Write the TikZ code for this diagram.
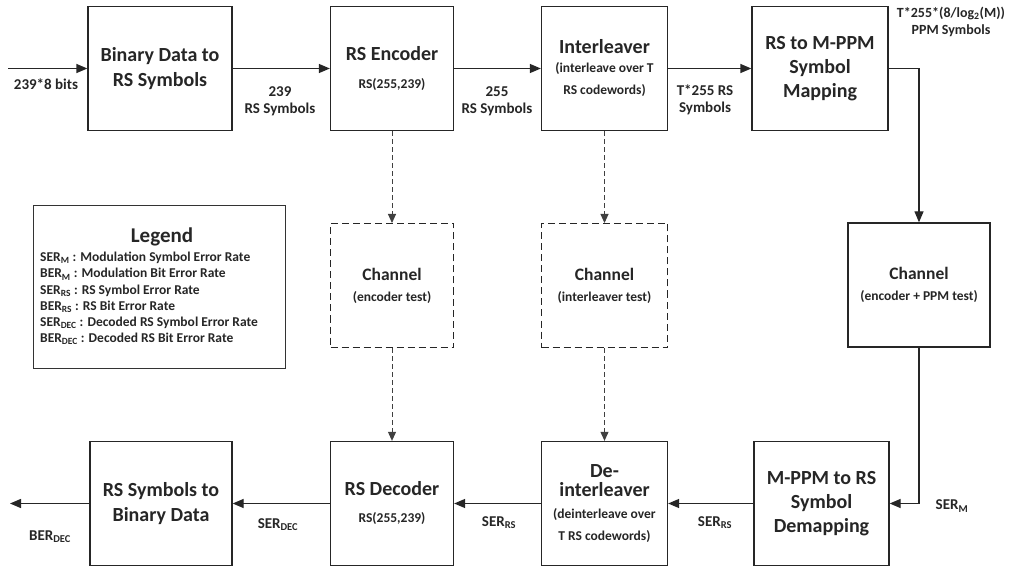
\documentclass[tikz,border=0pt]{standalone}
\usepackage{fontspec}
\setmainfont{Carlito}
\usetikzlibrary{arrows.meta}
\newcommand\subtxt[1]{{\fontsize{13.5}{17}\selectfont #1}}
\begin{document}
\begin{tikzpicture}[x=1pt,y=-1pt,
  blk/.style={draw=black!85,line width=1.3pt,fill=white,align=center,inner sep=2pt,
    minimum height=124pt,text=black!85,font=\fontsize{20}{25}\selectfont\bfseries},
  chan/.style={blk,font=\fontsize{17.5}{23}\selectfont\bfseries},
  chtest/.style={chan,line width=1pt,dash pattern=on 7pt off 4pt},
  lbl/.style={align=center,text=black!85,font=\fontsize{15}{17}\selectfont\bfseries},
  flow/.style={draw=black!85,line width=1.3pt,-{Triangle[length=11pt,width=9pt]}},
  tap/.style={draw=black!75,line width=0.9pt,dash pattern=on 5pt off 3pt,-{Triangle[length=9pt,width=8pt]}}]
  \useasboundingbox (0,0) rectangle (1017,569);

  % transmit chain
  \coordinate (in) at (8,68.5);
  \node[blk,minimum width=144pt] (bin) at (160,68.5) {Binary Data to\\RS Symbols};
  \node[blk,minimum width=123pt] (enc) at (392,68.5) {RS Encoder\\[3pt]\subtxt{RS(255,239)}};
  \node[blk,minimum width=126pt] (intl) at (604.5,68.5) {Interleaver\\[-6pt]\subtxt{(interleave over T}\\[-3pt]\subtxt{RS codewords)}};
  \node[blk,minimum width=136pt] (map) at (820,68.5) {RS to M-PPM\\[-1pt]Symbol\\[-1pt]Mapping};

  % channels
  \node[chtest,minimum width=123pt] (ch1) at (392,285.5) {Channel\\[-2pt]\subtxt{(encoder test)}};
  \node[chtest,minimum width=126pt] (ch2) at (604.5,285.5) {Channel\\[-2pt]\subtxt{(interleaver test)}};
  \node[chan,minimum width=142pt] (ch3) at (919,285) {Channel\\[-2pt]\subtxt{(encoder + PPM test)}};

  % receive chain
  \coordinate (out) at (10,503.5);
  \node[blk,minimum width=142pt] (unbin) at (161,503.5) {RS Symbols to\\Binary Data};
  \node[blk,minimum width=123pt] (dec) at (392,503.5) {RS Decoder\\[2pt]\subtxt{RS(255,239)}};
  \node[blk,minimum width=126pt] (deint) at (604.5,503.5) {De-\\[-6pt]interleaver\\[-3pt]\subtxt{(deinterleave over}\\[-3pt]\subtxt{T RS codewords)}};
  \node[blk,minimum width=135pt] (demap) at (821.5,503.5) {M-PPM to RS\\[-1pt]Symbol\\[-1pt]Demapping};

  % connectors
  \draw[flow] (in) -- (bin.west);
  \draw[flow] (bin) -- (enc);
  \draw[flow] (enc) -- (intl);
  \draw[flow] (intl) -- (map);
  \draw[flow] (map.east) -| (ch3.north);
  \draw[flow] (ch3.south) |- (demap.east);
  \draw[flow] (demap) -- (deint);
  \draw[flow] (deint) -- (dec);
  \draw[flow] (dec) -- (unbin);
  \draw[flow] (unbin.west) -- (out);
  \draw[tap] (enc) -- (ch1);
  \draw[tap] (ch1) -- (dec);
  \draw[tap] (intl) -- (ch2);
  \draw[tap] (ch2) -- (deint);

  % connector labels
  \node[lbl] (l0) at (46,84) {239*8 bits};
  \node[lbl] (l1) at (280,101) {239\\RS Symbols};
  \node[lbl] (l2) at (497,101) {255\\RS Symbols};
  \node[lbl] (l3) at (705,100) {T*255 RS\\Symbols};
  \node[lbl,font=\fontsize{14}{17}\selectfont\bfseries] (l4) at (951,22) {T*255*(8/log\textsubscript{2}(M))\\PPM Symbols};
  \node[lbl] (l5) at (952,506) {SER\textsubscript{M}};
  \node[lbl] (l6) at (715,523) {SER\textsubscript{RS}};
  \node[lbl] (l7) at (499,523) {SER\textsubscript{RS}};
  \node[lbl] (l8) at (278,525) {SER\textsubscript{DEC}};
  \node[lbl] (l9) at (50,537) {BER\textsubscript{DEC}};

  % legend
  \node[draw=black!80,line width=1pt,minimum width=252pt,minimum height=162pt] (legend) at (159,287) {};
  \node[text=black!85,font=\fontsize{21}{24}\selectfont\bfseries] (legtitle) at (162,237) {Legend};
  \node[anchor=north west,align=left,inner sep=0pt,text=black!85,font=\fontsize{13.5}{16.2}\selectfont\bfseries] (legtext) at (40,252)
    {SER\textsubscript{M} : Modulation Symbol Error Rate\\
     BER\textsubscript{M} : Modulation Bit Error Rate\\
     SER\textsubscript{RS} : RS Symbol Error Rate\\
     BER\textsubscript{RS} : RS Bit Error Rate\\
     SER\textsubscript{DEC} : Decoded RS Symbol Error Rate\\
     BER\textsubscript{DEC} : Decoded RS Bit Error Rate};
\end{tikzpicture}
\end{document}
